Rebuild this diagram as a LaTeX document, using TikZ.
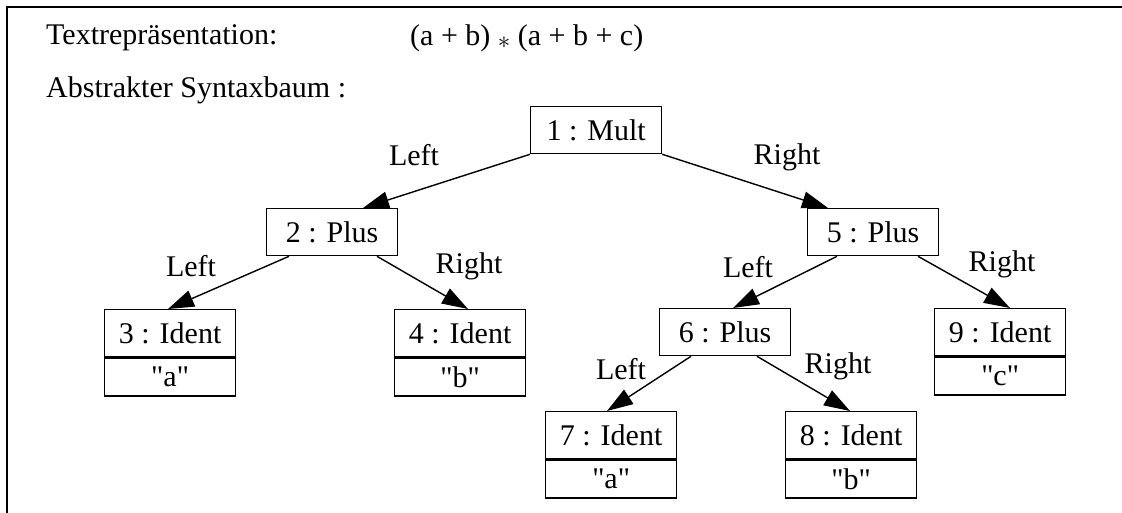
\documentclass[tikz,border=0pt]{standalone}
\usepackage{fontspec}
\setmainfont{Liberation Serif}[Ligatures=TeXOff]
\usetikzlibrary{arrows.meta,calc}
\tikzset{
  treebox/.style={draw, line width=1.3pt, minimum width=131pt, minimum height=47pt, inner sep=0pt, anchor=north west, font=\fontsize{30}{36}\selectfont},
  valbox/.style={draw, line width=1.3pt, minimum width=131pt, minimum height=38pt, inner sep=0pt, anchor=north, font=\fontsize{30}{36}\selectfont},
  edge/.style={line width=1.4pt, -{Triangle[length=26pt,width=17pt]}},
  lbl/.style={inner sep=0pt, font=\fontsize{30}{36}\selectfont},
  toptext/.style={inner sep=0pt, anchor=base west, font=\fontsize{30}{36}\selectfont},
  frame/.style={line width=2pt}
}
\begin{document}
\begin{tikzpicture}[x=1pt,y=-1pt]
\useasboundingbox (0,0) rectangle (1122,513);
% frame
\coordinate (fr1) at (1122,7);
\coordinate (fr2) at (7,7);
\coordinate (fr3) at (7,513);
\draw[frame] (fr1) -- (fr2) -- (fr3);
% top texts
\node[toptext] (t1) at (46,45) {Textrepräsentation:};
\node[toptext] (t2) at (410,46) {(a + b) \raisebox{-0.1em}{$\ast$} (a + b + c)};
\node[toptext] (t3) at (46,98) {Abstrakter Syntaxbaum :};
% nodes
\node[treebox] (m1) at (530,106) {1 : Mult};
\node[treebox] (p2) at (266,208) {2 : Plus};
\node[treebox] (p5) at (807,208) {5 : Plus};
\node[treebox] (i3) at (104,309) {3 : Ident};
\node[valbox]  (v3) at (i3.south) {"a"};
\node[treebox] (i4) at (394,309) {4 : Ident};
\node[valbox]  (v4) at (i4.south) {"b"};
\node[treebox] (p6) at (659,308) {6 : Plus};
\node[treebox] (i9) at (934,308) {9 : Ident};
\node[valbox]  (v9) at (i9.south) {"c"};
\node[treebox] (i7) at (545,411) {7 : Ident};
\node[valbox]  (v7) at (i7.south) {"a"};
\node[treebox] (i8) at (785,411) {8 : Ident};
\node[valbox]  (v8) at (i8.south) {"b"};
% edges
\draw[edge] (m1.south west) -- ([xshift=97pt]p2.north west);
\draw[edge] (m1.south east) -- ([xshift=21pt]p5.north west);
\draw[edge] ([xshift=23pt]p2.south west) -- ([xshift=64pt]i3.north west);
\draw[edge] ([xshift=111pt]p2.south west) -- ([xshift=74pt]i4.north west);
\draw[edge] ([xshift=30pt]p5.south west) -- ([xshift=74pt]p6.north west);
\draw[edge] ([xshift=111pt]p5.south west) -- ([xshift=76pt]i9.north west);
\draw[edge] ([xshift=32pt]p6.south west) -- ([xshift=62pt]i7.north west);
\draw[edge] ([xshift=98pt]p6.south west) -- ([xshift=65pt]i8.north west);
% labels
\node[lbl] (l12) at (414,155) {Left};
\node[lbl] (l15) at (787,157) {Right};
\node[lbl] (l23) at (191,266) {Left};
\node[lbl] (l24) at (469,266) {Right};
\node[lbl] (l56) at (748,267) {Left};
\node[lbl] (l59) at (1002,264) {Right};
\node[lbl] (l67) at (621,369) {Left};
\node[lbl] (l68) at (838,366) {Right};
\end{tikzpicture}
\end{document}
